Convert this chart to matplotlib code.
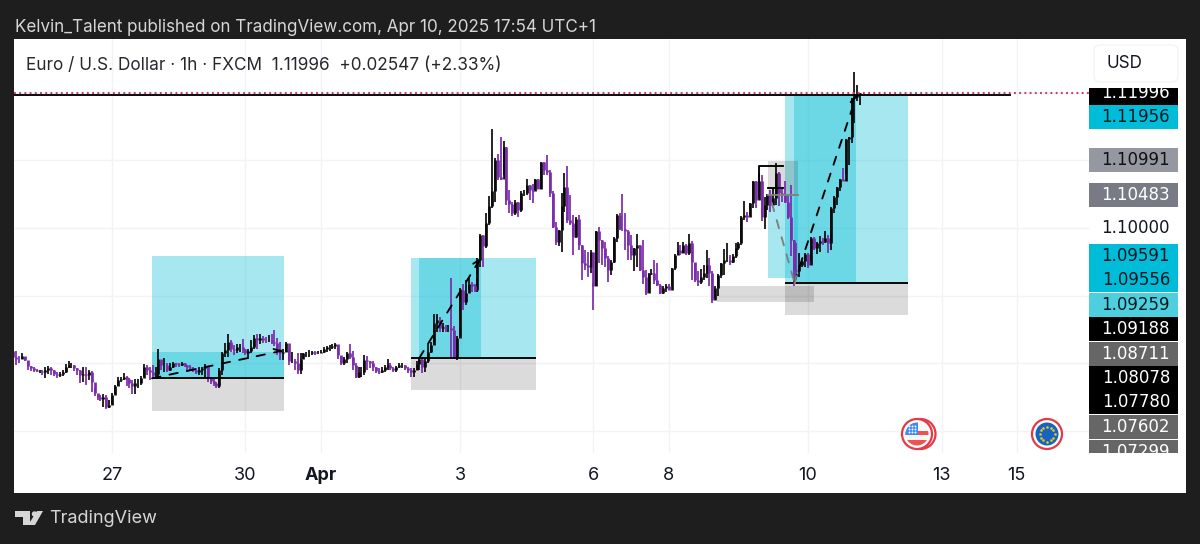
import numpy as np
import matplotlib
matplotlib.use("Agg")
import matplotlib.pyplot as plt
from matplotlib.patches import Rectangle, Circle, Polygon, FancyBboxPatch

plt.rcParams["font.family"] = ["Inter", "DejaVu Sans"]

# hourly EURUSD bars (bar 0 is the "27" tick)
first_bar = -34
first_open = 1.0818

closes = [
    1.0810, 1.0807, 1.0806, 1.0811, 1.0805, 1.0796, 1.0793, 1.0790, 1.0789, 1.0789, 1.0788, 1.0790,
    1.0793, 1.0790, 1.0785, 1.0783, 1.0785, 1.0788, 1.0795, 1.0798, 1.0798, 1.0793, 1.0790, 1.0783,
    1.0785, 1.0783, 1.0788, 1.0773, 1.0756, 1.0751, 1.0748, 1.0751, 1.0735, 1.0739, 1.0753, 1.0766,
    1.0776, 1.0777, 1.0780, 1.0777, 1.0771, 1.0766, 1.0771, 1.0771, 1.0778, 1.0795, 1.0790, 1.0788,
    1.0783, 1.0785, 1.0807, 1.0798, 1.0798, 1.0790, 1.0795, 1.0800, 1.0799, 1.0798, 1.0800, 1.0798,
    1.0794, 1.0793, 1.0790, 1.0788, 1.0790, 1.0793, 1.0796, 1.0778, 1.0774, 1.0771, 1.0767, 1.0790,
    1.0815, 1.0820, 1.0832, 1.0822, 1.0820, 1.0825, 1.0825, 1.0821, 1.0815, 1.0819, 1.0824, 1.0837,
    1.0834, 1.0837, 1.0835, 1.0834, 1.0835, 1.0832, 1.0830, 1.0822, 1.0815, 1.0817, 1.0830, 1.0803,
    1.0803, 1.0800, 1.0790,
    1.0807, 1.0815, 1.0815, 1.0816, 1.0817, 1.0816, 1.0816, 1.0817, 1.0822, 1.0824, 1.0825, 1.0826,
    1.0829, 1.0812, 1.0800, 1.0807, 1.0816, 1.0810, 1.0798, 1.0780, 1.0788, 1.0788, 1.0805, 1.0803,
    1.0800, 1.0794, 1.0789, 1.0788, 1.0790, 1.0794, 1.0798, 1.0793, 1.0790, 1.0795, 1.0798, 1.0798,
    1.0793, 1.0790, 1.0788, 1.0790, 1.0799, 1.0807, 1.0795, 1.0803, 1.0817,
    1.0827, 1.0859, 1.0864, 1.0852, 1.0854, 1.0852, 1.0852, 1.0850, 1.0810, 1.0837, 1.0908, 1.0891,
    1.0904, 1.0918, 1.0914, 1.0909, 1.0953, 1.0990, 1.0973, 1.1007, 1.1032, 1.1054, 1.1100, 1.1076,
    1.1073, 1.1120, 1.1041, 1.1036, 1.1022, 1.1039, 1.1027, 1.1051, 1.1051, 1.1064, 1.1056, 1.1054,
    1.1073, 1.1058, 1.1098, 1.1086, 1.1083, 1.1051, 1.1002, 1.0980, 1.0997, 1.1032, 1.1061, 1.1012,
    1.1007, 1.0987, 1.1014, 1.0975, 1.0948, 1.0946, 1.0943, 1.0965, 1.0914, 1.0995, 1.0982, 1.0970,
    1.0955, 1.0938, 1.0950, 1.0985, 1.1019, 1.0999, 1.0998, 1.0995, 1.0975, 1.0960, 1.0970, 1.0975,
    1.0938, 1.0928, 1.0904, 1.0932, 1.0933, 1.0923, 1.0916, 1.0904, 1.0911, 1.0914, 1.0909, 1.0941,
    1.0960, 1.0968, 1.0963, 1.0975, 1.0963, 1.0978, 1.0950, 1.0923, 1.0921, 1.0928, 1.0933, 1.0945,
    1.0933, 1.0894, 1.0911, 1.0931, 1.0948, 1.0953, 1.0953, 1.0950, 1.0958, 1.0970, 1.0978, 1.1017,
    1.1019, 1.1017,
    1.1037, 1.1069, 1.1042, 1.1069, 1.1017, 1.1034, 1.1049, 1.1034, 1.1044, 1.1081, 1.1051, 1.1049,
    1.1039, 1.1017, 1.0983, 1.0938, 1.0936, 1.0946, 1.0951, 1.0962, 1.0946, 1.0985, 1.0970, 1.0978,
    1.0981, 1.0980, 1.0985, 1.0978, 1.1029, 1.1046, 1.1061, 1.1073, 1.1070, 1.1132, 1.1135, 1.1192,
    1.1194, 1.1197, 1.1200,
]

highs = [
    1.0821, 1.0819, 1.0811, 1.0816, 1.0809, 1.0803, 1.0796, 1.0794, 1.0792, 1.0791, 1.0791, 1.0795,
    1.0796, 1.0795, 1.0790, 1.0788, 1.0788, 1.0790, 1.0799, 1.0803, 1.0801, 1.0798, 1.0793, 1.0791,
    1.0795, 1.0794, 1.0791, 1.0789, 1.0763, 1.0755, 1.0753, 1.0755, 1.0753, 1.0746, 1.0757, 1.0768,
    1.0780, 1.0780, 1.0786, 1.0781, 1.0778, 1.0776, 1.0777, 1.0777, 1.0781, 1.0799, 1.0798, 1.0795,
    1.0798, 1.0795, 1.0821, 1.0803, 1.0808, 1.0800, 1.0801, 1.0802, 1.0801, 1.0800, 1.0802, 1.0801,
    1.0798, 1.0798, 1.0794, 1.0793, 1.0794, 1.0795, 1.0799, 1.0795, 1.0780, 1.0777, 1.0773, 1.0793,
    1.0817, 1.0830, 1.0844, 1.0834, 1.0827, 1.0829, 1.0829, 1.0836, 1.0822, 1.0822, 1.0835, 1.0842,
    1.0844, 1.0843, 1.0840, 1.0839, 1.0842, 1.0844, 1.0849, 1.0837, 1.0831, 1.0822, 1.0831, 1.0821,
    1.0817, 1.0807, 1.0815,
    1.0816, 1.0816, 1.0817, 1.0820, 1.0819, 1.0819, 1.0819, 1.0820, 1.0825, 1.0826, 1.0827, 1.0828,
    1.0830, 1.0826, 1.0811, 1.0810, 1.0817, 1.0829, 1.0819, 1.0800, 1.0795, 1.0795, 1.0812, 1.0811,
    1.0804, 1.0803, 1.0795, 1.0793, 1.0794, 1.0798, 1.0807, 1.0801, 1.0795, 1.0796, 1.0801, 1.0800,
    1.0798, 1.0795, 1.0793, 1.0793, 1.0803, 1.0810, 1.0809, 1.0807, 1.0830,
    1.0832, 1.0873, 1.0873, 1.0868, 1.0859, 1.0857, 1.0857, 1.0926, 1.0855, 1.0840, 1.0911, 1.0918,
    1.0923, 1.0926, 1.0921, 1.0918, 1.0955, 1.0991, 1.0990, 1.1022, 1.1047, 1.1146, 1.1103, 1.1110,
    1.1135, 1.1128, 1.1119, 1.1056, 1.1039, 1.1041, 1.1039, 1.1054, 1.1056, 1.1072, 1.1064, 1.1065,
    1.1073, 1.1073, 1.1098, 1.1098, 1.1108, 1.1086, 1.1054, 1.1009, 1.0997, 1.1051, 1.1081, 1.1091,
    1.1049, 1.1019, 1.1017, 1.1019, 1.0975, 1.0968, 1.0965, 1.0968, 1.0919, 1.0995, 1.1002, 1.0983,
    1.0980, 1.0958, 1.0953, 1.0987, 1.1021, 1.1022, 1.1050, 1.1022, 1.0997, 1.0990, 1.0970, 1.0991,
    1.0975, 1.0983, 1.0938, 1.0933, 1.0939, 1.0953, 1.0948, 1.0918, 1.0914, 1.0918, 1.0918, 1.0941,
    1.0961, 1.0980, 1.0975, 1.0979, 1.0976, 1.0991, 1.0981, 1.0949, 1.0936, 1.0939, 1.0945, 1.0968,
    1.0955, 1.0936, 1.0914, 1.0932, 1.0949, 1.0969, 1.0978, 1.0960, 1.0962, 1.0978, 1.0980, 1.1018,
    1.1040, 1.1024,
    1.1037, 1.1069, 1.1069, 1.1081, 1.1078, 1.1046, 1.1050, 1.1056, 1.1059, 1.1096, 1.1083, 1.1061,
    1.1069, 1.1049, 1.1064, 1.0983, 1.0978, 1.0963, 1.0955, 1.0963, 1.0963, 1.0987, 1.0987, 1.0980,
    1.0988, 1.0986, 1.0996, 1.0990, 1.1031, 1.1047, 1.1061, 1.1073, 1.1088, 1.1132, 1.1135, 1.1192,
    1.1230, 1.1211, 1.1200,
]

lows = [
    1.0801, 1.0798, 1.0801, 1.0806, 1.0803, 1.0791, 1.0789, 1.0788, 1.0787, 1.0786, 1.0783, 1.0778,
    1.0785, 1.0783, 1.0781, 1.0778, 1.0780, 1.0781, 1.0786, 1.0793, 1.0793, 1.0789, 1.0783, 1.0771,
    1.0773, 1.0768, 1.0776, 1.0758, 1.0752, 1.0746, 1.0744, 1.0735, 1.0732, 1.0734, 1.0740, 1.0755,
    1.0766, 1.0773, 1.0776, 1.0766, 1.0763, 1.0755, 1.0755, 1.0763, 1.0768, 1.0780, 1.0783, 1.0776,
    1.0777, 1.0777, 1.0777, 1.0790, 1.0788, 1.0788, 1.0789, 1.0793, 1.0795, 1.0795, 1.0796, 1.0794,
    1.0788, 1.0790, 1.0788, 1.0785, 1.0783, 1.0783, 1.0780, 1.0773, 1.0770, 1.0767, 1.0764, 1.0763,
    1.0783, 1.0810, 1.0810, 1.0817, 1.0812, 1.0815, 1.0817, 1.0815, 1.0812, 1.0807, 1.0815, 1.0822,
    1.0822, 1.0829, 1.0830, 1.0830, 1.0832, 1.0829, 1.0826, 1.0812, 1.0805, 1.0805, 1.0817, 1.0798,
    1.0800, 1.0790, 1.0784,
    1.0785, 1.0807, 1.0809, 1.0810, 1.0812, 1.0812, 1.0814, 1.0815, 1.0816, 1.0817, 1.0819, 1.0821,
    1.0822, 1.0807, 1.0798, 1.0798, 1.0800, 1.0807, 1.0790, 1.0778, 1.0779, 1.0780, 1.0783, 1.0790,
    1.0793, 1.0789, 1.0786, 1.0785, 1.0786, 1.0788, 1.0790, 1.0790, 1.0788, 1.0788, 1.0793, 1.0793,
    1.0790, 1.0786, 1.0780, 1.0780, 1.0790, 1.0790, 1.0786, 1.0788, 1.0800,
    1.0815, 1.0827, 1.0847, 1.0847, 1.0847, 1.0847, 1.0847, 1.0808, 1.0808, 1.0805, 1.0837, 1.0879,
    1.0887, 1.0909, 1.0906, 1.0905, 1.0906, 1.0943, 1.0943, 1.0970, 1.1005, 1.1029, 1.1039, 1.1071,
    1.1071, 1.1078, 1.1034, 1.1022, 1.1018, 1.1019, 1.1017, 1.1024, 1.1047, 1.1049, 1.1041, 1.1037,
    1.1056, 1.1058, 1.1058, 1.1078, 1.1078, 1.1046, 1.1000, 1.0975, 1.0973, 1.0965, 1.1024, 1.1007,
    1.1005, 1.0960, 1.0985, 1.0968, 1.0923, 1.0938, 1.0928, 1.0933, 1.0879, 1.0914, 1.0948, 1.0946,
    1.0943, 1.0921, 1.0931, 1.0948, 1.0980, 1.0997, 1.0996, 1.0968, 1.0953, 1.0953, 1.0936, 1.0943,
    1.0936, 1.0918, 1.0901, 1.0906, 1.0931, 1.0918, 1.0914, 1.0902, 1.0903, 1.0906, 1.0908, 1.0914,
    1.0938, 1.0960, 1.0960, 1.0963, 1.0960, 1.0960, 1.0923, 1.0921, 1.0914, 1.0917, 1.0923, 1.0926,
    1.0914, 1.0889, 1.0896, 1.0899, 1.0926, 1.0931, 1.0950, 1.0946, 1.0948, 1.0955, 1.0968, 1.0975,
    1.1012, 1.1009,
    1.1019, 1.1029, 1.1029, 1.1044, 1.1010, 1.0998, 1.1027, 1.1024, 1.1034, 1.1034, 1.1032, 1.1039,
    1.1037, 1.1014, 1.0958, 1.0914, 1.0928, 1.0928, 1.0943, 1.0943, 1.0941, 1.0951, 1.0968, 1.0962,
    1.0965, 1.0975, 1.0978, 1.0963, 1.0968, 1.1022, 1.1034, 1.1055, 1.1069, 1.1078, 1.1093, 1.1125,
    1.1155, 1.1187, 1.1182,
]

tick_bars = [0, 46, 72, 120, 166, 192, 240, 286, 312]
tick_labels = ["27", "30", "Apr", "3", "6", "8", "10", "13", "15"]
price_grid = [1.07, 1.08, 1.09, 1.10, 1.11, 1.12]

# long position drawings: start bar, end bar, target, entry, stop, inner start, inner end, inner top
long_start = [13.8, 103.1, 232.1]
long_end = [59.3, 146.2, 274.5]
long_target = [1.09591, 1.09556, 1.11956]
long_entry = [1.07780, 1.08078, 1.09188]
long_stop = [1.07299, 1.07602, 1.08711]
inner_start = [13.8, 105.9, 235.2]
inner_end = [59.3, 127.2, 256.6]
inner_top = [1.0817, 1.09556, 1.11956]
dash_start = [(13.8, 1.0778), (105.9, 1.08078), (235.2, 1.09188)]
dash_end = [(59, 1.0819), (127.2, 1.0956), (256.8, 1.1197)]

# short position plus the grey zone under it
short_start, short_end = 226.2, 236.6
short_stop, short_entry, short_target = 1.10991, 1.10483, 1.09259
grey_start, grey_end, grey_top, grey_bottom = 208.6, 242, 1.0914, 1.0891

last_price = 1.11996
top_line = 1.1197

axis_prices = ["1.11996", "1.11956", "1.10991", "1.10483", "1.10000", "1.09591", "1.09556",
               "1.09259", "1.09188", "1.08711", "1.08078", "1.07780", "1.07602", "1.07299"]
axis_colors = ["#000000", "#00bcd9", "#9598a1", "#787b86", "#ffffff", "#00bcd9", "#00bcd9",
               "#4dcfe0", "#000000", "#666666", "#000000", "#000000", "#666666", "#666666"]
axis_text = ["#ffffff", "#0b1a20", "#111111", "#ffffff", "#131722", "#0b1a20", "#0b1a20",
             "#0b1a20", "#ffffff", "#ffffff", "#ffffff", "#ffffff", "#ffffff", "#ffffff"]
axis_mid = [93, 117, 160, 195, 228, 256, 280, 305, 329, 354, 378, 402, 427, 452]

W, H = 1200, 544
PURPLE = "#7b2cab"
CYAN = "#00bcd4"

fig = plt.figure(figsize=(12, 5.44), dpi=100, facecolor="#1e1e1e")
fig.add_artist(Rectangle((14 / W, 1 - 493 / H), 1172 / W, 454 / H, transform=fig.transFigure,
                         fc="white", ec="none", zorder=-1))

ax = fig.add_axes([14 / W, 1 - 453 / H, 1076 / W, 414 / H], facecolor="none")
ax.set_xlim(-33.8, 337.2)
ax.set_ylim(1.06677, 1.12792)
for s in ax.spines.values():
    s.set_visible(False)
ax.set_xticks(tick_bars)
ax.set_yticks(price_grid)
ax.tick_params(length=0, labelbottom=False, labelleft=False)
ax.grid(True, color="#f2f3f7", lw=1.0)
ax.set_axisbelow(True)

# position boxes
for i in range(3):
    w = long_end[i] - long_start[i]
    ax.add_patch(Rectangle((long_start[i], long_entry[i]), w, long_target[i] - long_entry[i],
                           fc=CYAN, alpha=0.35, ec="none", zorder=1))
    ax.add_patch(Rectangle((inner_start[i], long_entry[i]), inner_end[i] - inner_start[i],
                           inner_top[i] - long_entry[i], fc=CYAN, alpha=0.35, ec="none", zorder=1))
    ax.add_patch(Rectangle((long_start[i], long_stop[i]), w, long_entry[i] - long_stop[i],
                           fc="black", alpha=0.14, ec="none", zorder=1))

sw = short_end - short_start
ax.add_patch(Rectangle((short_start, short_target), sw, short_entry - short_target,
                       fc=CYAN, alpha=0.35, ec="none", zorder=1))
ax.add_patch(Rectangle((short_start, short_entry), sw, short_stop - short_entry,
                       fc="black", alpha=0.14, ec="none", zorder=1))
ax.add_patch(Rectangle((grey_start, grey_bottom), grey_end - grey_start, grey_top - grey_bottom,
                       fc="black", alpha=0.14, ec="none", zorder=1))

# candles
bars = first_bar + np.arange(len(closes))
closes_arr = np.array(closes)
opens = np.r_[first_open, closes_arr[:-1]]
up = closes_arr >= opens
for mask, color in ((up, "#0a0a0a"), (~up, PURPLE)):
    ax.vlines(bars[mask], np.array(lows)[mask], np.array(highs)[mask], color=color, lw=1.25,
              zorder=3, capstyle="butt")
    ax.vlines(bars[mask], opens[mask], closes_arr[mask], color=color, lw=1.95, zorder=3,
              capstyle="butt")

# horizontal lines
for i in range(3):
    ax.plot([long_start[i], long_end[i]], [long_entry[i]] * 2, color="black", lw=1.35, zorder=4,
            solid_capstyle="butt")
ax.plot([-33.8, 309.7], [top_line] * 2, color="black", lw=1.35, zorder=4)
ax.plot([-33.8, 337.2], [last_price] * 2, color="#c4406a", lw=1.5, ls=(0, (0.9, 1.6)), zorder=5)

# dashed arrows
for a, b in zip(dash_start, dash_end):
    ax.annotate("", xy=b, xytext=a, zorder=4,
                arrowprops=dict(arrowstyle="->,head_length=0.5,head_width=0.25", color="black",
                                lw=1.35, ls=(0, (4.5, 5)), shrinkA=0, shrinkB=0))
ax.annotate("", xy=(235.6, 1.0915), xytext=(227.5, 1.1037), zorder=4,
            arrowprops=dict(arrowstyle="->,head_length=0.5,head_width=0.25", color="#7f7f7f",
                            lw=1.35, ls=(0, (4.5, 5)), shrinkA=0, shrinkB=0))

# short position bracket
ax.plot([223.1, 223.1, 231.4], [1.1068, 1.1092, 1.1092], color="black", lw=1.35, zorder=4)
ax.plot([226.2, 231.4], [1.1059, 1.1059], color="black", lw=1.35, zorder=4)
ax.plot([short_start, short_end], [short_entry, short_entry], color="#808080", lw=1.35, zorder=4)

# pixel space overlay for the tv furniture
ov = fig.add_axes([0, 0, 1, 1], facecolor="none", zorder=5)
ov.set_xlim(0, W)
ov.set_ylim(H, 0)
ov.axis("off")

ov.text(15, 27.5, "Kelvin_Talent published on TradingView.com, Apr 10, 2025 17:54 UTC+1",
        color="#d6d6d6", fontsize=12.25, va="center", ha="left")
ov.text(26, 66, "Euro / U.S. Dollar · 1h · FXCM  1.11996  +0.02547 (+2.33%)",
        color="#26282e", fontsize=12.4, va="center", ha="left")
ov.text(49, 518.5, "TradingView", color="#d6d6d6", fontsize=13, va="center", ha="left")

ov.add_patch(Polygon([(15, 511), (30, 511), (30, 525), (23, 525), (23, 517), (15, 517)],
                     fc="#d6d6d6", ec="none"))
ov.add_patch(Circle((34.5, 514), 2.7, fc="#d6d6d6", ec="none"))
ov.add_patch(Polygon([(37, 511), (43, 511), (35, 525), (28, 525)], fc="#d6d6d6", ec="none"))

for b, lab in zip(tick_bars, tick_labels):
    px = 112 + 2.9 * b
    ov.text(px, 476, lab, color="#131722", fontsize=13,
            fontweight="bold" if lab == "Apr" else "normal", ha="center", va="center")

ov.add_patch(FancyBboxPatch((1098, 49), 76, 29, boxstyle="round,pad=4,rounding_size=6",
                            fc="white", ec="#f3f4f7", lw=1))
ov.text(1107, 64, "USD", color="#131722", fontsize=12.3, ha="left", va="center")

clip = Rectangle((1089, 88), 89, 365, transform=ov.transData)
for lab, col, tcol, mid in zip(axis_prices, axis_colors, axis_text, axis_mid):
    if col != "#ffffff":
        top = max(mid - 12, 88)
        bottom = min(mid + 12, 453)
        ov.add_patch(Rectangle((1089, top), 89, bottom - top, fc=col, ec="none"))
    t = ov.text(1170, mid, lab, color=tcol, fontsize=12, family="DejaVu Sans", ha="right",
                va="center", clip_on=True)
    t.set_clip_path(clip)

# calendar event flags
ov.add_patch(Circle((920.5, 434), 15, fc="white", ec="#e53945", lw=1.6))
ov.add_patch(Circle((917, 434), 15, fc="white", ec="#e53945", lw=1.6))
us = Circle((917, 434), 11.5, transform=ov.transData)
for patch in (
    Rectangle((905, 422), 24, 24, fc="#f8f8f8", ec="none"),
    Rectangle((905, 431), 24, 4, fc="#ef5350", ec="none"),
    Rectangle((905, 440), 24, 6, fc="#ef5350", ec="none"),
    Rectangle((905, 422), 13, 13, fc="#3d8bef", ec="none"),
):
    ov.add_patch(patch)
    patch.set_clip_path(us)
star_x, star_y = np.meshgrid([909, 912, 915], [426, 429, 432])
ov.scatter(star_x.ravel(), star_y.ravel(), s=2, color="white", lw=0, zorder=6)
ov.add_patch(Circle((1047, 434), 15, fc="white", ec="#e53945", lw=1.6))
ov.add_patch(Circle((1047, 434), 11.5, fc="#1565c0", ec="none"))
angles = np.deg2rad(np.arange(0, 360, 30))
ov.scatter(1047 + 7.5 * np.cos(angles), 434 + 7.5 * np.sin(angles), s=3.5, color="#f5c518", lw=0,
           zorder=6)

fig.savefig("out.png", dpi=100, facecolor=fig.get_facecolor())
